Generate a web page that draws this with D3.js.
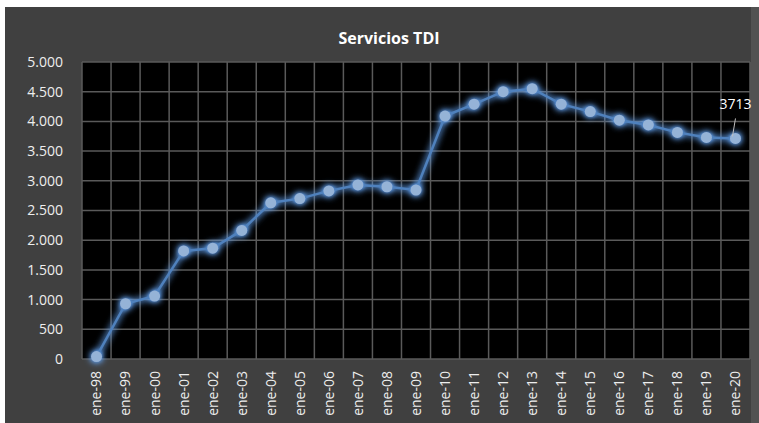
<!DOCTYPE html>
<html>
<head>
<meta charset="utf-8">
<script src="https://cdnjs.cloudflare.com/ajax/libs/d3/7.8.5/d3.min.js"></script>
<style>
  html, body { margin: 0; padding: 0; background: #fff; }
  svg { display: block; }
  text { font-family: "Open Sans", "DejaVu Sans", sans-serif; }
</style>
</head>
<body>
<svg id="chart" width="759" height="423"></svg>
<script>
// data
var years = ["ene-98","ene-99","ene-00","ene-01","ene-02","ene-03","ene-04","ene-05","ene-06","ene-07","ene-08","ene-09",
             "ene-10","ene-11","ene-12","ene-13","ene-14","ene-15","ene-16","ene-17","ene-18","ene-19","ene-20"];
var servicios = [40, 930, 1060, 1820, 1865, 2165, 2630, 2700, 2830, 2930, 2900, 2845,
                 4090, 4290, 4500, 4550, 4290, 4165, 4020, 3940, 3815, 3730, 3713];
var yTicks = [0, 500, 1000, 1500, 2000, 2500, 3000, 3500, 4000, 4500, 5000];

var svg = d3.select("#chart");
var width = +svg.attr("width");
var height = +svg.attr("height");

// chart background (white border top/left as in screenshot)
svg.append("rect").attr("x", 5).attr("y", 7).attr("width", width - 5).attr("height", height - 7)
  .style("fill", "#404040");
svg.append("rect").attr("x", 751).attr("y", 7).attr("width", 8).attr("height", height - 7)
  .style("fill", "#525252");

var pLeft = 82, pRight = 750, pTop = 62, pBottom = 359;

var x = d3.scaleBand().domain(years).range([pLeft, pRight]);
var y = d3.scaleLinear().domain([0, 5000]).range([pBottom, pTop]);

// glow filter for the line
var defs = svg.append("defs");
var glow = defs.append("filter").attr("id", "glow")
  .attr("x", "-20%").attr("y", "-20%").attr("width", "140%").attr("height", "140%");
glow.append("feGaussianBlur").attr("in", "SourceGraphic").attr("stdDeviation", 3.5).attr("result", "blur");
glow.append("feColorMatrix").attr("in", "blur").attr("type", "matrix")
  .attr("values", "0 0 0 0 0.12  0 0 0 0 0.35  0 0 0 0 0.85  0 0 0 1.8 0").attr("result", "blue");
var merge = glow.append("feMerge");
merge.append("feMergeNode").attr("in", "blue");
merge.append("feMergeNode").attr("in", "SourceGraphic");

// plot area
svg.append("rect").attr("x", pLeft).attr("y", pTop).attr("width", pRight - pLeft).attr("height", pBottom - pTop)
  .style("fill", "#000");

// gridlines
svg.append("g").selectAll("line").data(yTicks).enter().append("line")
  .attr("x1", pLeft).attr("x2", pRight)
  .attr("y1", function(d) { return y(d); }).attr("y2", function(d) { return y(d); })
  .style("stroke", "#5a5a5a").style("stroke-width", 1.5);

var vlines = years.map(function(d) { return x(d); }).concat([pRight]);
svg.append("g").selectAll("line").data(vlines).enter().append("line")
  .attr("x1", function(d) { return d; }).attr("x2", function(d) { return d; })
  .attr("y1", pTop).attr("y2", pBottom)
  .style("stroke", "#5a5a5a").style("stroke-width", 1.5);

// y axis
var yAxis = svg.append("g").attr("transform", "translate(" + (pLeft - 2) + ",0)")
  .call(d3.axisLeft(y).tickValues(yTicks).tickSize(0).tickPadding(17)
    .tickFormat(function(d) { return d3.format(",")(d).replace(/,/g, "."); }));
yAxis.select(".domain").remove();
yAxis.selectAll("text").style("fill", "#eeeeee").style("font-size", "14px");

// x axis, rotated labels
var xAxis = svg.append("g").attr("transform", "translate(0," + pBottom + ")")
  .call(d3.axisBottom(x).tickSize(0));
xAxis.select(".domain").remove();
xAxis.selectAll("text")
  .attr("transform", "rotate(-90)")
  .attr("x", -12).attr("y", 0).attr("dy", "0.35em")
  .style("text-anchor", "end")
  .style("fill", "#eeeeee").style("font-size", "14px");

// title
svg.append("text").attr("x", 389).attr("y", 44).attr("text-anchor", "middle")
  .style("fill", "#ffffff").style("font-size", "16px").style("font-weight", "bold")
  .text("Servicios TDI");

// series
var cx = function(d, i) { return x(years[i]) + x.bandwidth() / 2; };
var line = d3.line().x(cx).y(function(d) { return y(d); });

var series = svg.append("g").attr("filter", "url(#glow)");
series.append("path").datum(servicios).attr("d", line)
  .style("fill", "none").style("stroke", "#4f81bd").style("stroke-width", 2.5);
series.selectAll("circle").data(servicios).enter().append("circle")
  .attr("cx", cx).attr("cy", function(d) { return y(d); }).attr("r", 5.5)
  .style("fill", "#95b3d7");

// last value label with leader line
var last = servicios.length - 1;
var lx = cx(servicios[last], last), ly = y(servicios[last]);
svg.append("line").attr("x1", lx - 3).attr("y1", ly - 2).attr("x2", lx).attr("y2", ly - 20)
  .style("stroke", "#bfbfbf").style("stroke-width", 1);
svg.append("text").attr("x", lx).attr("y", ly - 29).attr("text-anchor", "middle")
  .style("fill", "#ffffff").style("font-size", "14px")
  .text(servicios[last]);
</script>
</body>
</html>
